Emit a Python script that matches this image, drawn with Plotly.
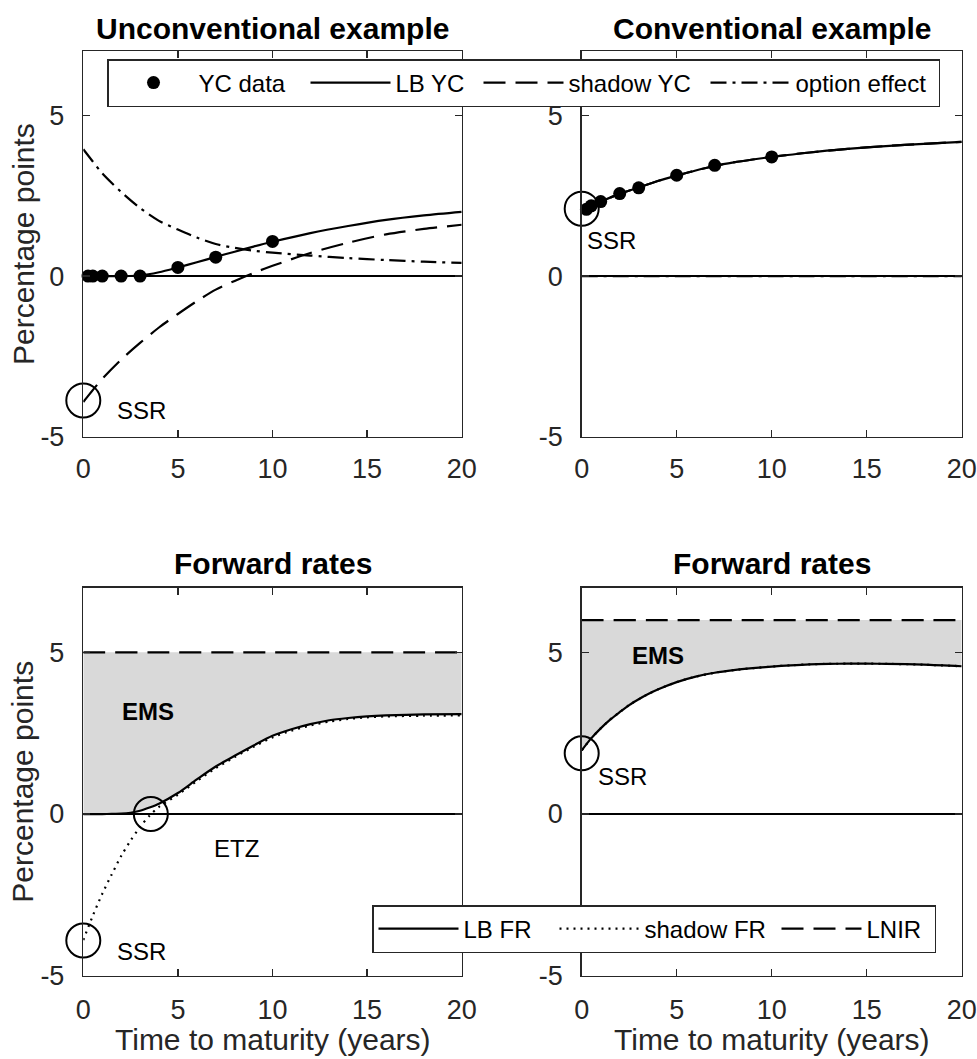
import plotly.graph_objects as go

# ------------------------------------------------------------------ data
tau_curve = [0, 0.5, 1, 2, 3, 4, 5, 6, 7, 8, 9, 10, 12, 14, 16, 18, 20]

lb_yc_unconv = [0.0, 0.0, 0.0, 0.0, 0.02, 0.12, 0.27, 0.43, 0.60, 0.76, 0.92, 1.07, 1.34, 1.56, 1.75, 1.89, 2.00]
shadow_yc_unconv = [-3.92, -3.55, -3.20, -2.60, -2.08, -1.60, -1.18, -0.78, -0.42, -0.15, 0.10, 0.32, 0.72, 1.04, 1.30, 1.47, 1.60]
option_unconv = [3.95, 3.57, 3.20, 2.62, 2.12, 1.72, 1.45, 1.20, 1.00, 0.88, 0.79, 0.73, 0.64, 0.56, 0.50, 0.45, 0.41]

lb_yc_conv = [2.00, 2.19, 2.32, 2.56, 2.76, 2.96, 3.13, 3.29, 3.43, 3.54, 3.63, 3.71, 3.85, 3.96, 4.05, 4.12, 4.18]
shadow_yc_conv = [2.00, 2.19, 2.32, 2.56, 2.76, 2.96, 3.13, 3.29, 3.43, 3.54, 3.63, 3.71, 3.85, 3.96, 4.05, 4.12, 4.18]
option_conv = [0.0, 0.0, 0.0, 0.0, 0.0, 0.0, 0.0, 0.0, 0.0, 0.0, 0.0, 0.0, 0.0, 0.0, 0.0, 0.0, 0.0]

yc_maturities = [0.25, 0.5, 1, 2, 3, 5, 7, 10]
yc_data_unconv = [0.0, 0.0, 0.0, 0.0, 0.0, 0.27, 0.59, 1.08]
yc_data_conv = [2.08, 2.19, 2.32, 2.57, 2.75, 3.14, 3.45, 3.71]

tau_fr = [0, 0.5, 1, 1.5, 2, 2.5, 3, 3.5, 4, 5, 6, 7, 8, 9, 10, 11, 12, 13, 14, 15, 16, 18, 20]
lb_fr_unconv = [0.0, 0.0, 0.0, 0.003, 0.01, 0.04, 0.10, 0.20, 0.32, 0.65, 1.07, 1.47, 1.80, 2.12, 2.42, 2.62, 2.78, 2.90, 2.97, 3.02, 3.05, 3.08, 3.09]
shadow_fr_unconv = [-3.90, -3.15, -2.47, -1.87, -1.30, -0.82, -0.40, -0.05, 0.22, 0.60, 1.02, 1.42, 1.76, 2.08, 2.37, 2.58, 2.74, 2.86, 2.94, 2.99, 3.02, 3.04, 3.05]
lb_fr_conv = [1.97, 2.34, 2.65, 2.92, 3.15, 3.37, 3.55, 3.71, 3.85, 4.08, 4.25, 4.37, 4.45, 4.51, 4.56, 4.60, 4.63, 4.645, 4.65, 4.65, 4.645, 4.62, 4.57]
shadow_fr_conv = [1.97, 2.34, 2.65, 2.92, 3.15, 3.37, 3.55, 3.71, 3.85, 4.08, 4.25, 4.37, 4.45, 4.51, 4.56, 4.60, 4.63, 4.645, 4.65, 4.65, 4.645, 4.62, 4.57]
lnir_unconv = 5.0
lnir_conv = 6.0

# highlighted points (SSR / ETZ circles): [maturity, rate]
ssr_yc_unconv = [0.0, -3.87]
ssr_yc_conv = [0.0, 2.10]
ssr_fr_unconv = [0.0, -3.91]
etz_fr_unconv = [3.57, 0.0]
ssr_fr_conv = [0.0, 1.88]

x_ticks = [0, 5, 10, 15, 20]
y_ticks = [-5, 0, 5]
y_tick_labels = ["-5", "0", "5"]

# ------------------------------------------------------------------ style
FONT = "Liberation Sans, Arial, Helvetica, sans-serif"
AX = "#262626"
DASH = "22px,10px"
DASHDOT = "16px,6px,3px,6px"
DOT = "2px,5px"
W, H = 977, 1059


def px(x):
    return x / W


def py(y):
    return 1 - y / H


fig = go.Figure()


def add_line(x, y, xa, ya, dash="solid", name=None, legend="legend", lw=None, rank=None, show=False):
    fig.add_trace(go.Scatter(
        x=x, y=y, xaxis=xa, yaxis=ya, mode="lines",
        line=dict(color="black", width=2.2, dash=dash, shape="spline", smoothing=0.8),
        name=name, showlegend=show, legend=legend, legendwidth=lw, legendrank=rank,
        hoverinfo="skip"))


def add_circle(pt, xa, ya):
    fig.add_trace(go.Scatter(
        x=[pt[0]], y=[pt[1]], xaxis=xa, yaxis=ya, mode="markers",
        marker=dict(symbol="circle-open", size=34, color="black", line=dict(width=2, color="black")),
        showlegend=False, cliponaxis=False, hoverinfo="skip"))


def add_fill(x, lower, level, xa, ya):
    fig.add_trace(go.Scatter(x=x, y=lower, xaxis=xa, yaxis=ya, mode="lines",
                             line=dict(width=0, shape="spline", smoothing=0.8),
                             showlegend=False, hoverinfo="skip"))
    fig.add_trace(go.Scatter(x=x, y=[level for _ in x], xaxis=xa, yaxis=ya, mode="lines",
                             line=dict(width=0), fill="tonexty", fillcolor="rgb(217,217,217)",
                             showlegend=False, hoverinfo="skip"))


# top-left: unconventional yield curve
add_line(tau_curve, lb_yc_unconv, "x", "y", name="LB YC", lw=78, rank=2, show=True)
add_line(tau_curve, shadow_yc_unconv, "x", "y", dash=DASH, name="shadow YC", lw=132, rank=3, show=True)
add_line(tau_curve, option_unconv, "x", "y", dash=DASHDOT, name="option effect", lw=138, rank=4, show=True)
fig.add_trace(go.Scatter(x=yc_maturities, y=yc_data_unconv, xaxis="x", yaxis="y", mode="markers",
                         marker=dict(symbol="circle", size=13, color="black"), name="YC data",
                         legend="legend", legendwidth=102, legendrank=1, cliponaxis=False, hoverinfo="skip"))
add_circle(ssr_yc_unconv, "x", "y")

# top-right: conventional yield curve
add_line(tau_curve, option_conv, "x2", "y2", dash=DASHDOT)
add_line(tau_curve, lb_yc_conv, "x2", "y2")
add_line(tau_curve, shadow_yc_conv, "x2", "y2", dash=DASH)
fig.add_trace(go.Scatter(x=yc_maturities, y=yc_data_conv, xaxis="x2", yaxis="y2", mode="markers",
                         marker=dict(symbol="circle", size=13, color="black"), showlegend=False,
                         cliponaxis=False, hoverinfo="skip"))
add_circle(ssr_yc_conv, "x2", "y2")

# bottom-left: unconventional forward rates
add_fill(tau_fr, lb_fr_unconv, lnir_unconv, "x3", "y3")
add_line(tau_fr, lb_fr_unconv, "x3", "y3", name="LB FR", legend="legend2", lw=86, rank=1, show=True)
add_line(tau_fr, shadow_fr_unconv, "x3", "y3", dash=DOT, name="shadow FR", legend="legend2", lw=127, rank=2, show=True)
add_line(tau_fr, [lnir_unconv for _ in tau_fr], "x3", "y3", dash=DASH, name="LNIR", legend="legend2", lw=63, rank=3, show=True)
add_circle(ssr_fr_unconv, "x3", "y3")
add_circle(etz_fr_unconv, "x3", "y3")

# bottom-right: conventional forward rates
add_fill(tau_fr, lb_fr_conv, lnir_conv, "x4", "y4")
add_line(tau_fr, lb_fr_conv, "x4", "y4")
add_line(tau_fr, shadow_fr_conv, "x4", "y4", dash=DOT)
add_line(tau_fr, [lnir_conv for _ in tau_fr], "x4", "y4", dash=DASH)
add_circle(ssr_fr_conv, "x4", "y4")

# ------------------------------------------------------------------ layout
xl = [px(83.3), px(461.7)]
xr = [px(581.7), px(961.7)]
yt = [py(436.7), py(51.3)]
yb = [py(975.7), py(587.7)]


def xaxis(dom, anchor, standoff):
    return dict(domain=dom, anchor=anchor, range=[0, 20], tickvals=x_ticks, ticks="inside",
                ticklen=7, tickwidth=1.5, tickcolor=AX, showline=True, linecolor=AX, linewidth=1.5,
                mirror="ticks", showgrid=False, zeroline=False, fixedrange=True, automargin=False,
                tickfont=dict(family=FONT, size=27, color=AX), ticklabelstandoff=standoff)


def yaxis(dom, anchor):
    return dict(domain=dom, anchor=anchor, range=[-5, 7], tickvals=y_ticks, ticktext=y_tick_labels,
                ticks="inside", ticklen=7, tickwidth=1.5, tickcolor=AX, showline=True, linecolor=AX,
                linewidth=1.5, mirror="ticks", showgrid=False, zeroline=True, zerolinecolor="black",
                zerolinewidth=2, fixedrange=True, automargin=False,
                tickfont=dict(family=FONT, size=27, color=AX), ticklabelstandoff=12)


annotations = []


def ptext(text, x, y, size=30, bold=False, angle=0):
    annotations.append(dict(text=("<b>%s</b>" % text) if bold else text, x=x, y=y, xref="paper", yref="paper",
                            xanchor="center", yanchor="middle", showarrow=False, textangle=angle,
                            font=dict(family=FONT, size=size, color="black" if bold else AX)))


def dtext(text, x, y, xa, ya, bold=False):
    annotations.append(dict(text=("<b>%s</b>" % text) if bold else text, x=x, y=y, xref=xa, yref=ya,
                            xanchor="left", yanchor="middle", showarrow=False,
                            font=dict(family=FONT, size=24, color="black")))


cx_l = (xl[0] + xl[1]) / 2
cx_r = (xr[0] + xr[1]) / 2
ptext("Unconventional example", cx_l, py(28.5), bold=True)
ptext("Conventional example", cx_r, py(28.5), bold=True)
ptext("Forward rates", cx_l, py(563), bold=True)
ptext("Forward rates", cx_r, py(563), bold=True)
ptext("Percentage points", px(23), (yt[0] + yt[1]) / 2, angle=-90)
ptext("Percentage points", px(23), (yb[0] + yb[1]) / 2, angle=-90)
ptext("Time to maturity (years)", cx_l, py(1039))
ptext("Time to maturity (years)", cx_r, py(1039))

dtext("SSR", 1.69, -4.18, "x", "y")
dtext("SSR", 0.16, 1.10, "x2", "y2")
dtext("EMS", 1.94, 3.16, "x3", "y3", bold=True)
dtext("ETZ", 6.78, -1.06, "x3", "y3")
dtext("SSR", 1.67, -4.25, "x3", "y3")
dtext("EMS", 2.53, 4.90, "x4", "y4", bold=True)
dtext("SSR", 0.77, 1.15, "x4", "y4")

legend_style = dict(orientation="h", bgcolor="white", bordercolor=AX, borderwidth=1.5,
                    font=dict(family=FONT, size=24, color="black"), itemwidth=80, traceorder="normal",
                    xanchor="left", yanchor="top", itemclick=False, itemdoubleclick=False)

fig.update_layout(
    width=W, height=H, margin=dict(l=0, r=0, t=0, b=0, autoexpand=False),
    paper_bgcolor="white", plot_bgcolor="white",
    font=dict(family=FONT, color=AX),
    xaxis=xaxis(xl, "y", 7), yaxis=yaxis(yt, "x"),
    xaxis2=xaxis(xr, "y2", 7), yaxis2=yaxis(yt, "x2"),
    xaxis3=xaxis(xl, "y3", 9), yaxis3=yaxis(yb, "x3"),
    xaxis4=xaxis(xr, "y4", 9), yaxis4=yaxis(yb, "x4"),
    legend=dict(x=px(107), y=py(59), **legend_style),
    legend2=dict(x=px(372), y=py(905), **legend_style),
    annotations=annotations,
    showlegend=True,
)

# remove the default page margin so the figure fills the 977x1059 window exactly
PAGE_CSS_JS = ("document.body.style.margin='0';document.body.style.padding='0';"
               "document.body.style.overflow='hidden';document.documentElement.style.overflow='hidden';")

fig.write_html("out.html", post_script=PAGE_CSS_JS,
               config={"displayModeBar": False, "staticPlot": True})
